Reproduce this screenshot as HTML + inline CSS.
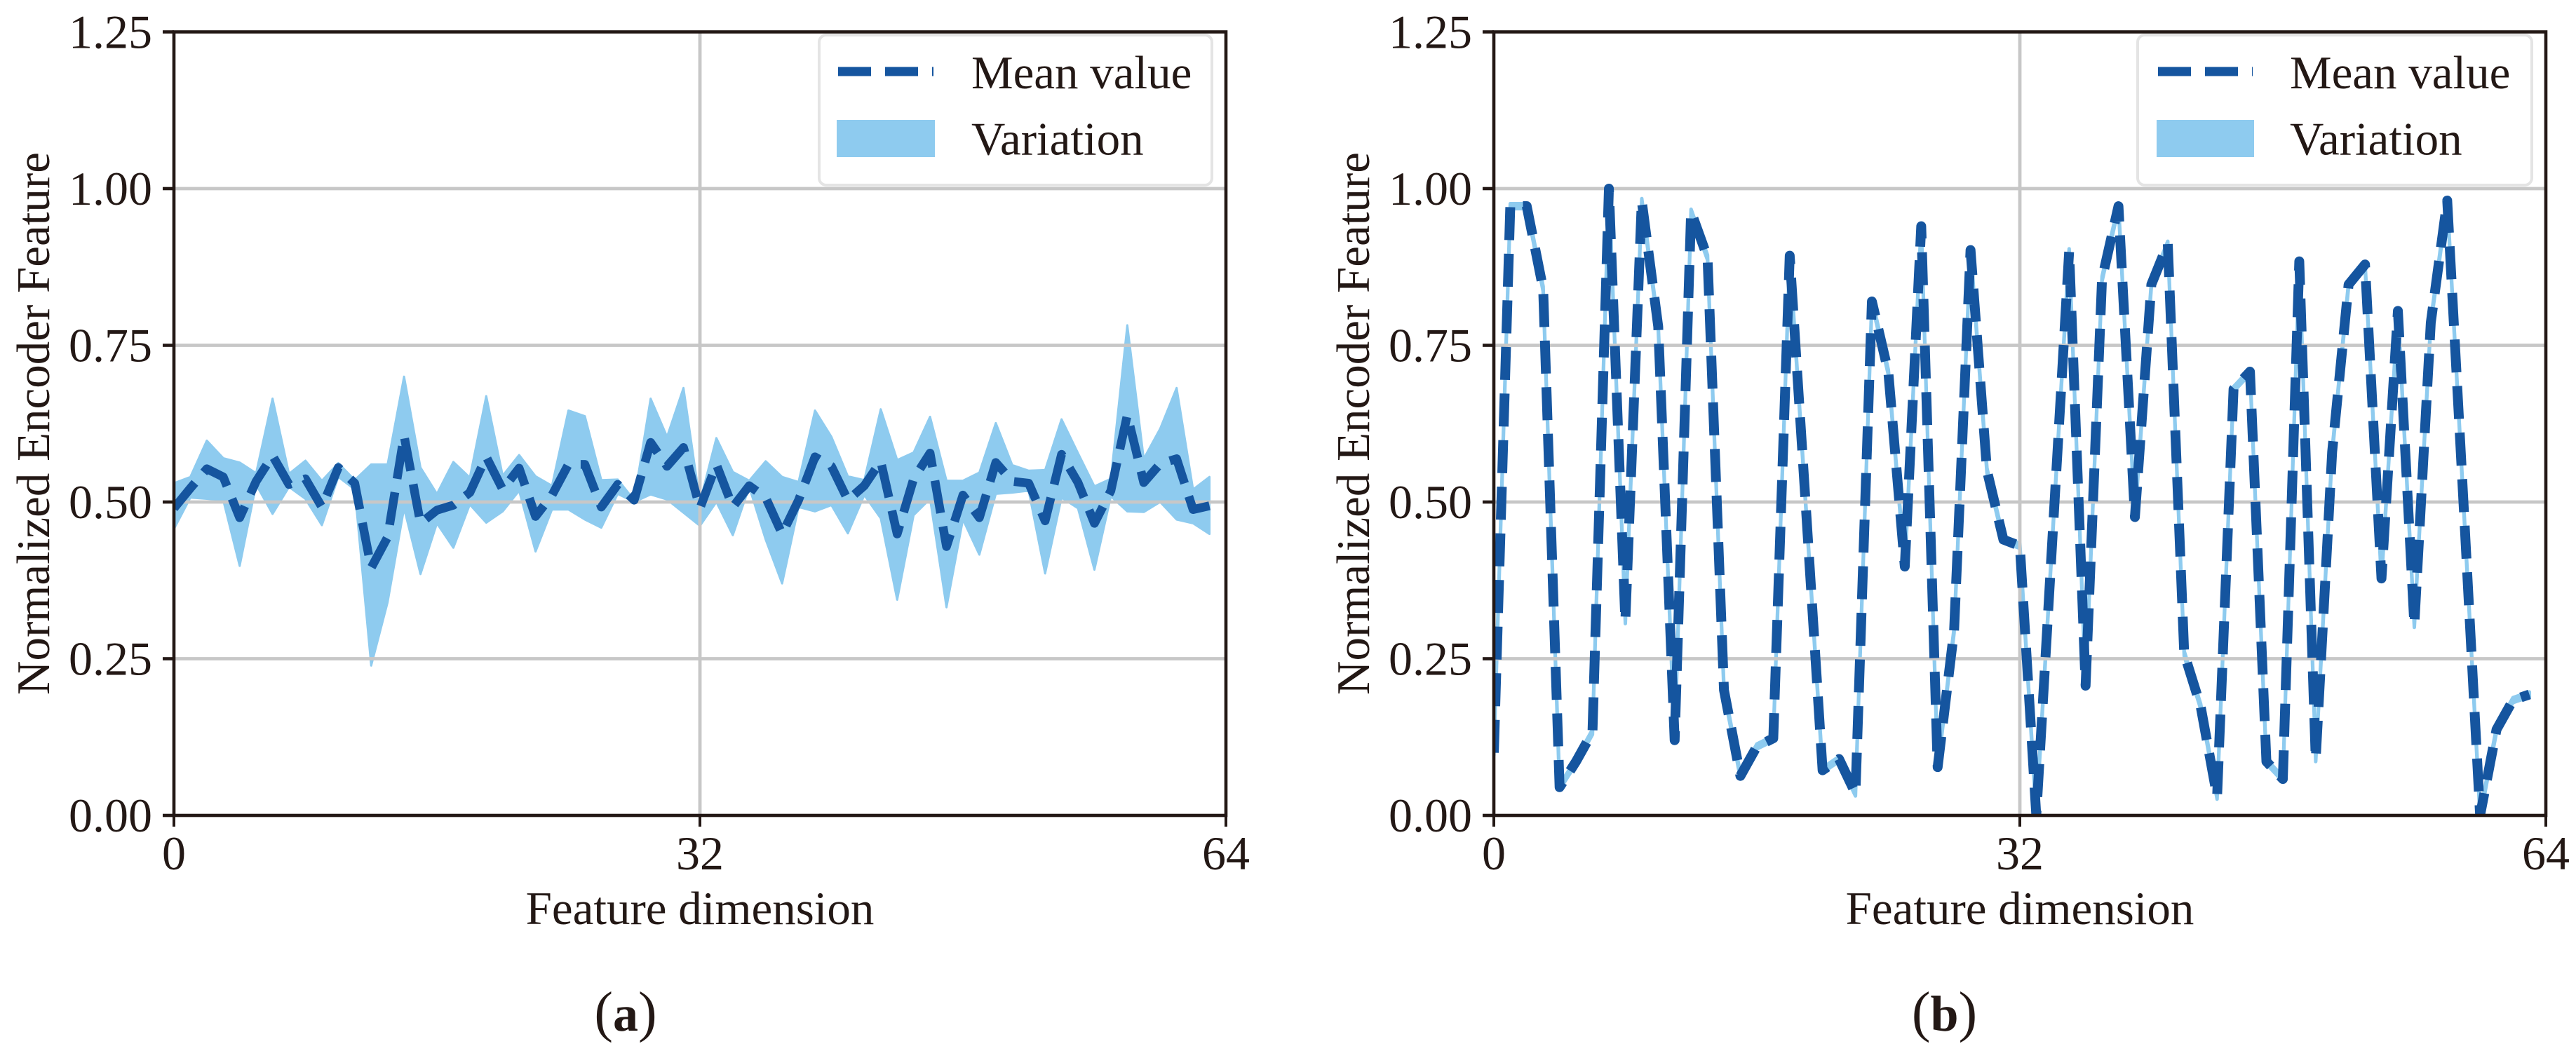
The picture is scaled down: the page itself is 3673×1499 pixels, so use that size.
<!DOCTYPE html>
<html lang="en">
<head>
<meta charset="utf-8">
<title>Normalized Encoder Feature charts</title>
<style>
html,body{margin:0;padding:0;background:#fff;}
svg{display:block;}
text{font-family:"Liberation Serif","Times New Roman",serif;fill:#231815;}
</style>
</head>
<body>
<svg id="figure" xmlns="http://www.w3.org/2000/svg" width="3673" height="1499" viewBox="0 0 3673 1499"></svg>
<script>
const xTickValues = [0, 32, 64];
const yTickValues = [0, 0.25, 0.5, 0.75, 1, 1.25];
const yGridValues = [0.25, 0.5, 0.75, 1];
const xGridValues = [32];
const xAxisTitle = "Feature dimension";
const yAxisTitle = "Normalized Encoder Feature";
const legendLabels = ["Mean value", "Variation"];

const meanA = [0.49,0.522,0.553,0.54,0.475,0.533,0.574,0.528,0.537,0.492,0.555,0.53,0.395,0.444,0.606,0.466,0.487,0.495,0.515,0.572,0.52,0.554,0.477,0.511,0.56,0.56,0.492,0.528,0.503,0.595,0.557,0.587,0.49,0.56,0.492,0.526,0.507,0.449,0.503,0.572,0.557,0.503,0.526,0.565,0.449,0.537,0.578,0.429,0.511,0.475,0.563,0.533,0.53,0.47,0.576,0.531,0.466,0.518,0.639,0.531,0.561,0.569,0.488,0.494];
const upperA = [0.53,0.54,0.598,0.57,0.563,0.546,0.665,0.545,0.566,0.534,0.562,0.535,0.56,0.56,0.70,0.555,0.513,0.564,0.539,0.669,0.542,0.575,0.541,0.526,0.646,0.637,0.535,0.536,0.503,0.665,0.604,0.682,0.50,0.602,0.548,0.534,0.565,0.54,0.532,0.646,0.604,0.541,0.535,0.648,0.567,0.579,0.636,0.534,0.534,0.547,0.626,0.559,0.55,0.551,0.632,0.578,0.525,0.537,0.782,0.569,0.617,0.682,0.52,0.54];
const lowerA = [0.457,0.507,0.505,0.503,0.398,0.528,0.481,0.524,0.505,0.463,0.54,0.52,0.239,0.34,0.49,0.385,0.466,0.427,0.496,0.467,0.485,0.518,0.421,0.488,0.488,0.472,0.459,0.513,0.50,0.512,0.504,0.483,0.462,0.50,0.447,0.524,0.44,0.37,0.492,0.485,0.495,0.45,0.511,0.474,0.344,0.479,0.505,0.332,0.472,0.416,0.513,0.515,0.518,0.386,0.507,0.49,0.392,0.509,0.485,0.484,0.50,0.472,0.466,0.449];

const meanB = [0.10,0.972,0.972,0.84,0.045,0.086,0.133,1.0,0.31,0.98,0.78,0.12,0.963,0.89,0.20,0.063,0.11,0.123,0.893,0.485,0.072,0.09,0.035,0.82,0.707,0.397,0.94,0.077,0.295,0.902,0.55,0.44,0.43,0.0,0.45,0.90,0.207,0.856,0.972,0.476,0.847,0.912,0.258,0.174,0.03,0.68,0.708,0.086,0.058,0.884,0.09,0.58,0.847,0.879,0.378,0.805,0.304,0.786,0.981,0.494,0.0,0.137,0.184,0.193];
const upperB = [0.104,0.976,0.976,0.844,0.049,0.09,0.137,1.004,0.314,0.984,0.784,0.124,0.967,0.894,0.204,0.067,0.114,0.127,0.897,0.489,0.076,0.094,0.039,0.824,0.711,0.401,0.944,0.081,0.299,0.906,0.554,0.444,0.434,0.004,0.454,0.904,0.211,0.86,0.976,0.48,0.851,0.916,0.262,0.178,0.034,0.684,0.712,0.09,0.062,0.888,0.094,0.584,0.851,0.883,0.382,0.809,0.308,0.79,0.985,0.498,0.004,0.141,0.188,0.197];
const lowerB = [0.096,0.968,0.968,0.836,0.041,0.082,0.129,0.996,0.306,0.976,0.776,0.116,0.959,0.886,0.196,0.059,0.106,0.119,0.889,0.481,0.068,0.086,0.031,0.816,0.703,0.393,0.936,0.073,0.291,0.898,0.546,0.436,0.426,-0.004,0.446,0.896,0.203,0.852,0.968,0.472,0.843,0.908,0.254,0.17,0.026,0.676,0.704,0.082,0.054,0.88,0.086,0.576,0.843,0.875,0.374,0.801,0.3,0.782,0.977,0.49,-0.004,0.133,0.18,0.189];

const NS = "http://www.w3.org/2000/svg";
const INK = "#231815", GRID = "#c7c7c7", BAND = "#8ecbef", LINE = "#15559f", FRAME = "#e4e4e4";
const svg = document.getElementById("figure");

function mk(parent, tag, attrs, txt) {
  const el = document.createElementNS(NS, tag);
  for (const k in attrs) el.setAttribute(k, attrs[k]);
  if (txt !== undefined) el.textContent = txt;
  parent.appendChild(el);
  return el;
}

function drawPanel(key, caption, off, leg, style, mean, upper, lower) {
  const L = 248 + off, R = 1748 + off, T = 45.5, B = 1163;
  const xDomain = 64, yDomain = 1.25;
  const sx = v => L + (v / xDomain) * (R - L);
  const sy = v => B - (v / yDomain) * (B - T);

  const g = mk(svg, "g", {});
  
  

  const defs = mk(g, "defs", {});
  const clip = mk(defs, "clipPath", { id: "clip-" + key });
  mk(clip, "rect", { x: L, y: T, width: R - L, height: B - T });

  const band = mk(g, "polygon", {
    points: upper.map((v, i) => sx(i).toFixed(2) + "," + sy(v).toFixed(2))
      .concat(lower.map((v, i) => sx(i).toFixed(2) + "," + sy(v).toFixed(2)).reverse()).join(" "),
    fill: BAND, stroke: BAND, "stroke-width": style.bandStroke, "stroke-linejoin": "round",
    "clip-path": "url(#clip-" + key + ")"
  });
  
  

  yGridValues.forEach(v => {
    const ln = mk(g, "line", { x1: L, x2: R, y1: sy(v), y2: sy(v), stroke: GRID, "stroke-width": 4.8 });
    
    
  });
  xGridValues.forEach(v => {
    const ln = mk(g, "line", { x1: sx(v), x2: sx(v), y1: T, y2: B, stroke: GRID, "stroke-width": 4.8 });
    
    
  });

  const line = mk(g, "polyline", {
    points: mean.map((v, i) => sx(i).toFixed(2) + "," + sy(v).toFixed(2)).join(" "),
    fill: "none", stroke: LINE, "stroke-width": style.lineWidth, "stroke-dasharray": "47 19.5",
    "stroke-linejoin": "round", "stroke-linecap": "butt",
    "clip-path": "url(#clip-" + key + ")"
  });
  
  

  const frame = mk(g, "rect", { x: L, y: T, width: R - L, height: B - T, fill: "none", stroke: INK, "stroke-width": 4.6 });
  
  

  xTickValues.forEach(v => {
    const t = mk(g, "line", { x1: sx(v), x2: sx(v), y1: B, y2: B + 16, stroke: INK, "stroke-width": 4 });
    
    
    const lb = mk(g, "text", { x: sx(v), y: 1240, "text-anchor": "middle", "font-size": 68 }, String(v));
    
    
  });
  yTickValues.forEach(v => {
    const t = mk(g, "line", { x1: L - 16, x2: L, y1: sy(v), y2: sy(v), stroke: INK, "stroke-width": 4.6 });
    
    
    const lb = mk(g, "text", { x: L - 31, y: sy(v) + 23, "text-anchor": "end", "font-size": 68 }, v.toFixed(2));
    
    
  });

  const xt = mk(g, "text", { x: (L + R) / 2, y: 1318, "text-anchor": "middle", "font-size": 67 }, xAxisTitle);
  
  

  const yt = mk(g, "text", { x: 0, y: 0, "text-anchor": "middle", "font-size": 67,
    transform: "translate(" + (70 + off) + " 604) rotate(-90)" }, yAxisTitle);
  
  

  const lg = mk(g, "g", {});
  
  
  const box = mk(lg, "rect", { x: leg.x, y: 50, width: leg.w, height: 214, rx: 10, ry: 10, fill: "#fff", stroke: FRAME, "stroke-width": 4 });
  
  
  const key1 = mk(lg, "line", { x1: leg.lineX1, x2: leg.lineX2, y1: 102, y2: 102, stroke: LINE, "stroke-width": 13, "stroke-dasharray": "47 20" });
  
  
  const key2 = mk(lg, "rect", { x: leg.patchX, y: 171, width: leg.patchW, height: 53, fill: BAND });
  
  
  const t1 = mk(lg, "text", { x: leg.textX, y: 126, "font-size": 67 }, legendLabels[0]);
  
  
  const t2 = mk(lg, "text", { x: leg.textX, y: 220.5, "font-size": 67 }, legendLabels[1]);
  
  

  const cap = mk(g, "text", { x: caption.x, y: 1470, "text-anchor": "middle", "font-size": 80 });
  
  
  mk(cap, "tspan", {}, "(");
  mk(cap, "tspan", { "font-weight": "bold", "font-size": 72 }, caption.letter);
  mk(cap, "tspan", {}, ")");
}

drawPanel("a", { x: 892, letter: "a" }, 0,
  { x: 1168, w: 560, lineX1: 1195, lineX2: 1331, patchX: 1193, patchW: 140, textX: 1385 },
  { lineWidth: 12.5, bandStroke: 3 },
  meanA, upperA, lowerA);
drawPanel("b", { x: 2772.5, letter: "b" }, 1882,
  { x: 3048, w: 562, lineX1: 3077, lineX2: 3212, patchX: 3075, patchW: 139, textX: 3265 },
  { lineWidth: 14, bandStroke: 5 },
  meanB, upperB, lowerB);
</script>
</body>
</html>
